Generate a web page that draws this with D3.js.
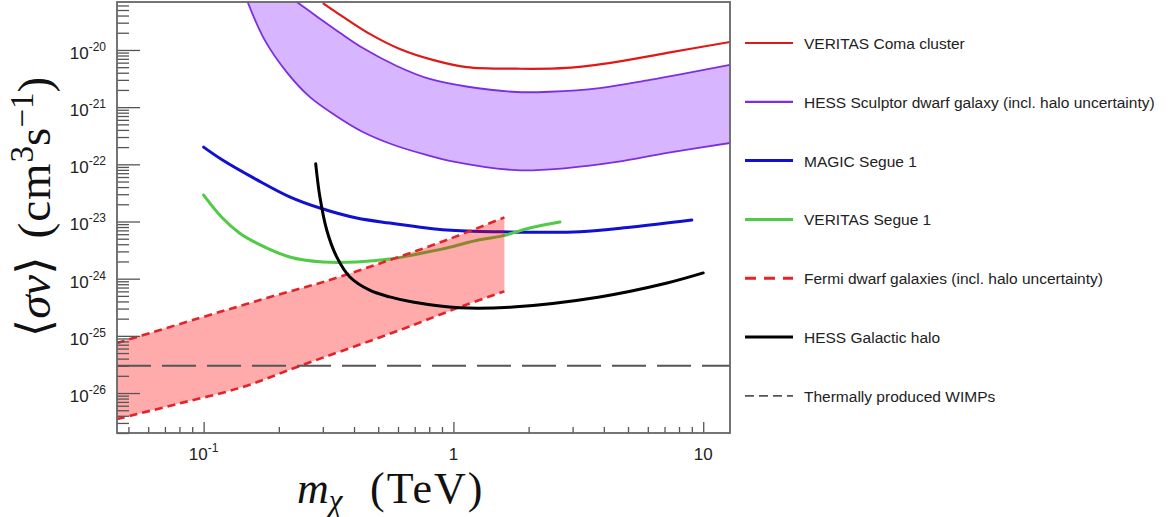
<!DOCTYPE html>
<html><head><meta charset="utf-8">
<script src="https://cdn.jsdelivr.net/npm/d3@7"></script>
<style>
html,body{margin:0;padding:0;background:#fff;}
svg{display:block;}
</style></head><body>
<svg id="chart" width="1168" height="517"></svg>
<script>
// ---------------- data (m_chi in TeV, <sigma v> in cm^3 s^-1) ----------------
const xDomain = [0.045, 12.8];
const yDomain = [2.0e-27, 6.9e-20];

const xMajorTicks = [0.1, 1, 10];
const xTickBase = ["10", "1", "10"];
const xTickExp = ["-1", "", ""];
const xMinorTicks = [0.05,0.06,0.07,0.08,0.09,0.2,0.3,0.4,0.5,0.6,0.7,0.8,0.9,2,3,4,5,6,7,8,9];

const yMajorTicks = [1e-26,1e-25,1e-24,1e-23,1e-22,1e-21,1e-20];
const yTickExp = ["-26","-25","-24","-23","-22","-21","-20"];
const yMinorMultipliers = [2,3,4,5,6,7,8,9];
const yMinorDecades = [1e-27,1e-26,1e-25,1e-24,1e-23,1e-22,1e-21,1e-20];

const veritasComa = [[0.300,6.6e-20],[0.367,3.63e-20],[0.462,1.91e-20],[0.61,1.04e-20],[0.826,6.7e-21],[1.13,5.0e-21],[1.79,4.7e-21],[2.84,4.85e-21],[4.51,6.2e-21],[7.17,8.9e-21],[12.8,1.38e-20]];
const sculptorUpper = [[0.236,6.9e-20],[0.283,3.9e-20],[0.351,2.0e-20],[0.434,1.08e-20],[0.593,5.25e-21],[0.804,3.11e-21],[1.16,2.25e-21],[1.79,1.84e-21],[2.43,1.86e-21],[3.85,2.16e-21],[6.11,3.0e-21],[12.8,5.5e-21]];
const sculptorLower = [[0.150,6.9e-20],[0.1754,1.5e-20],[0.215,4.1e-21],[0.266,1.51e-21],[0.3346,7.3e-22],[0.434,3.68e-22],[0.593,2.09e-22],[0.804,1.41e-22],[0.966,1.15e-22],[1.79,7.9e-23],[2.84,8.6e-23],[4.51,1.1e-22],[7.17,1.58e-22],[12.8,2.36e-22]];
const magicSegue = [[0.1,2.0e-22],[0.119,1.19e-22],[0.163,5.4e-23],[0.221,2.7e-23],[0.292,1.72e-23],[0.41,1.15e-23],[0.556,9.4e-24],[0.94,7.1e-24],[1.56,6.6e-24],[3.21,6.6e-24],[5.2,8.0e-24],[9.0,1.06e-23]];
const veritasSegue = [[0.1,2.9e-23],[0.119,1.15e-23],[0.139,6.3e-24],[0.163,4.2e-24],[0.221,2.4e-24],[0.30,1.96e-24],[0.41,1.96e-24],[0.556,2.2e-24],[0.687,2.6e-24],[0.94,3.44e-24],[1.27,4.8e-24],[1.57,5.6e-24],[2.02,7.7e-24],[2.67,9.8e-24]];
const fermiUpper = [[0.045,7.5e-26],[0.0964,2.05e-25],[0.179,4.6e-25],[0.32,9.5e-25],[0.556,2.12e-24],[0.94,4.75e-24],[1.6,1.18e-23]];
const fermiLower = [[0.045,3.5e-27],[0.078,6.4e-27],[0.143,1.27e-26],[0.2424,2.97e-26],[0.61,1.26e-25],[1.09,3.33e-25],[1.6,6.0e-25]];
const hessGalactic = [[0.281,1.02e-22],[0.292,2.7e-23],[0.311,7.1e-24],[0.341,2.4e-24],[0.385,1.07e-24],[0.462,6.3e-25],[0.556,4.8e-25],[0.687,3.9e-25],[1.06,3.1e-25],[1.73,3.2e-25],[3.85,4.8e-25],[7.17,8.4e-25],[10.0,1.26e-24]];
const thermalWIMP = 3e-26;

const legendLabels = ["VERITAS Coma cluster","HESS Sculptor dwarf galaxy (incl. halo uncertainty)","MAGIC Segue 1","VERITAS Segue 1","Fermi dwarf galaxies (incl. halo uncertainty)","HESS Galactic halo","Thermally produced WIMPs"];

// ---------------- styles ----------------
const C = {
  red:"#e01818", purple:"#7b2ee2", purpleFill:"#d8b6ff", blue:"#1010d0",
  green:"#4fcb45", fermiFill:"rgba(255,0,0,0.33)", fermiLine:"#e3222a",
  black:"#000", thermal:"#555", frame:"#666", tick:"#555", text:"#222"
};
const legendStyles = [
  {stroke:C.red, width:2.2},
  {stroke:C.purple, width:2.2},
  {stroke:C.blue, width:3},
  {stroke:C.green, width:3},
  {stroke:C.fermiLine, width:3, dash:"11,8"},
  {stroke:C.black, width:3},
  {stroke:C.thermal, width:1.8, dash:"9,5"}
];

const plot = {left:117, right:730, top:2, bottom:433};
const svg = d3.select("#chart");
svg.append("rect").attr("width",1168).attr("height",517).attr("fill","#fff");

const x = d3.scaleLog().domain(xDomain).range([plot.left, plot.right]);
const y = d3.scaleLog().domain(yDomain).range([plot.bottom, plot.top]);

svg.append("defs").append("clipPath").attr("id","clip")
  .append("rect").attr("x",plot.left).attr("y",plot.top)
  .attr("width",plot.right-plot.left).attr("height",plot.bottom-plot.top);

const line = d3.line().x(d=>x(d[0])).y(d=>y(d[1])).curve(d3.curveCatmullRom.alpha(0.5));
function bandPath(upper, lower){
  const a = line(upper);
  const b = line(lower.slice().reverse());
  return a + "L" + b.slice(1) + "Z";
}

const g = svg.append("g").attr("clip-path","url(#clip)");

// Sculptor band
g.append("path").attr("d", bandPath(sculptorUpper, sculptorLower)).attr("fill", C.purpleFill).attr("stroke","none");
g.append("path").attr("d", line(sculptorUpper)).attr("fill","none").attr("stroke",C.purple).attr("stroke-width",1.8);
g.append("path").attr("d", line(sculptorLower)).attr("fill","none").attr("stroke",C.purple).attr("stroke-width",1.8);
// Coma
g.append("path").attr("d", line(veritasComa)).attr("fill","none").attr("stroke",C.red).attr("stroke-width",2.2);
// MAGIC
g.append("path").attr("d", line(magicSegue)).attr("fill","none").attr("stroke",C.blue).attr("stroke-width",3).attr("stroke-linecap","round");
// VERITAS Segue
g.append("path").attr("d", line(veritasSegue)).attr("fill","none").attr("stroke",C.green).attr("stroke-width",3).attr("stroke-linecap","round");
// Fermi band
g.append("path").attr("d", bandPath(fermiUpper, fermiLower)).attr("fill", C.fermiFill).attr("stroke","none");
g.append("path").attr("d", line(fermiUpper)).attr("fill","none").attr("stroke",C.fermiLine).attr("stroke-width",2.6).attr("stroke-dasharray","8,5");
g.append("path").attr("d", line(fermiLower)).attr("fill","none").attr("stroke",C.fermiLine).attr("stroke-width",2.6).attr("stroke-dasharray","8,5");
// HESS galactic halo
g.append("path").attr("d", line(hessGalactic)).attr("fill","none").attr("stroke",C.black).attr("stroke-width",3).attr("stroke-linecap","round");
// thermal
g.append("path").attr("d", line([[xDomain[0],thermalWIMP],[xDomain[1],thermalWIMP]]))
  .attr("fill","none").attr("stroke",C.thermal).attr("stroke-width",1.8).attr("stroke-dasharray","34,11");

// ---------------- axes ----------------
const yMinorTicks = [];
yMinorDecades.forEach(d=>yMinorMultipliers.forEach(m=>{const v=d*m; if(v>=yDomain[0]&&v<=yDomain[1]) yMinorTicks.push(v);}));

function styleAxis(sel){
  sel.select(".domain").remove();
  sel.selectAll(".tick line").attr("stroke",C.tick).attr("stroke-width",1.3);
  sel.selectAll(".tick text").remove();
}
svg.append("g").attr("transform",`translate(0,${plot.bottom})`)
  .call(d3.axisBottom(x).tickValues(xMinorTicks).tickSize(-6).tickSizeOuter(0).tickFormat(""))
  .call(styleAxis);
svg.append("g").attr("transform",`translate(0,${plot.bottom})`)
  .call(d3.axisBottom(x).tickValues(xMajorTicks).tickSize(-11).tickSizeOuter(0).tickFormat(""))
  .call(styleAxis);
svg.append("g").attr("transform",`translate(${plot.left},0)`)
  .call(d3.axisLeft(y).tickValues(yMinorTicks).tickSize(-12).tickSizeOuter(0).tickFormat(""))
  .call(styleAxis);
svg.append("g").attr("transform",`translate(${plot.left},0)`)
  .call(d3.axisLeft(y).tickValues(yMajorTicks).tickSize(-23).tickSizeOuter(0).tickFormat(""))
  .call(styleAxis);

// frame
svg.append("rect").attr("x",plot.left).attr("y",plot.top)
  .attr("width",plot.right-plot.left).attr("height",plot.bottom-plot.top)
  .attr("fill","none").attr("stroke",C.frame).attr("stroke-width",1.8);

// tick labels
const labFont = "'Liberation Sans', Arial, Helvetica, sans-serif";
yMajorTicks.forEach((v,i)=>{
  const t = svg.append("text").attr("x",106).attr("y",y(v)+9)
    .attr("text-anchor","end").attr("font-family",labFont).attr("font-size",17).attr("fill",C.text);
  t.append("tspan").text("10");
  t.append("tspan").attr("font-size",12).attr("dy",-8).text(yTickExp[i]);
});
xMajorTicks.forEach((v,i)=>{
  const t = svg.append("text").attr("x",x(v)).attr("y",460)
    .attr("text-anchor","middle").attr("font-family",labFont).attr("font-size",17).attr("fill",C.text);
  t.append("tspan").text(xTickBase[i]);
  if (xTickExp[i]) t.append("tspan").attr("font-size",12).attr("dy",-8).text(xTickExp[i]);
});

// axis titles
const serif = "'Liberation Serif', 'DejaVu Serif', serif";
const xt = svg.append("text").attr("y",503).attr("font-family",serif).attr("font-size",44).attr("fill","#111");
xt.append("tspan").attr("x",297).attr("font-style","italic").text("m");
xt.append("tspan").attr("font-style","italic").attr("font-size",31).attr("dy",8).text("χ");
xt.append("tspan").attr("x",370).attr("dy",-8).attr("letter-spacing",2).text("(TeV)");

const yt = svg.append("text").attr("transform","translate(50,207) rotate(-90)")
  .attr("text-anchor","middle").attr("font-family",serif).attr("font-size",47).attr("fill","#111");
yt.append("tspan").text("⟨");
yt.append("tspan").attr("font-style","italic").text("σv");
yt.append("tspan").text("⟩");
yt.append("tspan").attr("dx",18).attr("letter-spacing",1).text("(cm");
yt.append("tspan").attr("font-size",33).attr("dy",-17).text("3");
yt.append("tspan").attr("dy",17).text("s");
yt.append("tspan").attr("font-size",33).attr("dy",-17).text("−1");
yt.append("tspan").attr("dy",17).text(")");

// legend
const legend = svg.append("g");
legendLabels.forEach((lab,i)=>{
  const ly = 43 + i*58.8;
  const s = legendStyles[i];
  legend.append("line").attr("x1",745).attr("x2",793).attr("y1",ly).attr("y2",ly)
    .attr("stroke",s.stroke).attr("stroke-width",s.width).attr("stroke-dasharray",s.dash||null);
  legend.append("text").attr("x",804).attr("y",ly+6).attr("font-family",labFont)
    .attr("font-size",15.5).attr("fill",C.text).text(lab);
});
</script>
</body></html>
